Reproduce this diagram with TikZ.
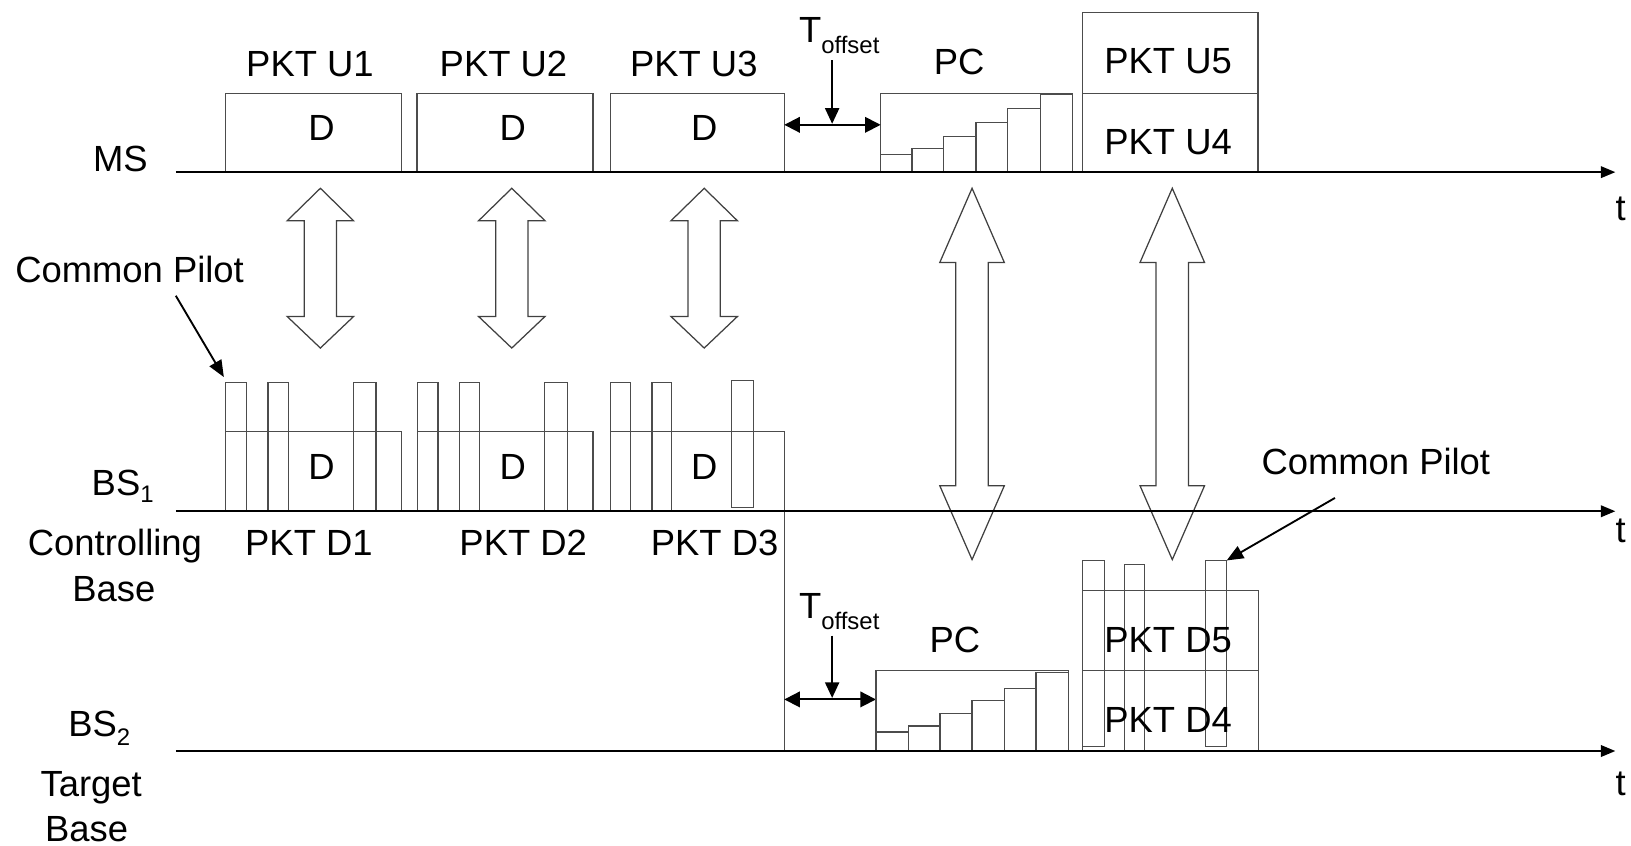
\documentclass[tikz,border=0pt]{standalone}
\usepackage{fontspec}
\setmainfont{Liberation Sans}
\usetikzlibrary{arrows.meta}
\tikzset{
  axis/.style={line width=2.2pt, black, -{Triangle[length=14pt,width=11pt]}},
  pkt/.style={draw=black!70, line width=1.2pt},
  blockarrow/.style={draw=black!75, line width=1.2pt, line join=miter},
  lbl/.style={font=\fontsize{35}{42}\selectfont, inner sep=0pt, anchor=base},
  dimarrow/.style={line width=1.8pt, black, {Triangle[length=15pt,width=15pt]}-{Triangle[length=15pt,width=15pt]}},
  downarrow/.style={line width=1.8pt, black, -{Triangle[length=15pt,width=13.5pt]}},
  pilotarrow/.style={line width=1.8pt, black, -{Triangle[length=16pt,width=13pt]}}
}
\newcommand\blkarrow[7]{\draw[blockarrow] (#1,#2) -- ({#1+#6},#3) -- ({#1+#7},#3) -- ({#1+#7},#4) -- ({#1+#6},#4) -- (#1,#5) -- ({#1-#6},#4) -- ({#1-#7},#4) -- ({#1-#7},#3) -- ({#1-#6},#3) -- cycle;}
\newcommand\pbar[4]{\draw[pkt] (#1,#4) rectangle (#2,#3);}
\newcommand\subtxt[2]{\raisebox{-#1pt}{\fontsize{23}{27}\selectfont #2}}
\begin{document}
\begin{tikzpicture}[x=1pt,y=-1pt]
\useasboundingbox (0,0) rectangle (1568,813.3);

% ---------- MS packets ----------
\draw[pkt] (217,90) rectangle (386,165.5);
\draw[pkt] (401,90) rectangle (570,165.5);
\draw[pkt] (586.6,90) rectangle (754,165.5);
\node[lbl] (d1) at (309,135) {D};
\node[lbl] (d2) at (493,135) {D};
\node[lbl] (d3) at (677,135) {D};
\node[lbl] (u1) at (298,73.4) {PKT U1};
\node[lbl] (u2) at (484,73.4) {PKT U2};
\node[lbl] (u3) at (667,73.4) {PKT U3};

% PC (MS)
\draw[pkt] (846.6,89.6) rectangle (1031,165.5);
\pbar{846.6}{876.7}{148.6}{165.5}
\pbar{876.7}{907.4}{142.8}{165.5}
\pbar{907.4}{938.2}{131.3}{165.5}
\pbar{938.2}{968.9}{117.9}{165.5}
\pbar{968.9}{1000}{104.4}{165.5}
\pbar{1000}{1031}{91}{165.5}
\node[lbl] (pc1) at (922,72) {PC};

% U4/U5
\draw[pkt] (1040.7,12.2) rectangle (1209.5,165.5);
\draw[pkt] (1040.7,89.6) -- (1209.5,89.6);
\node[lbl] (u5) at (1123,71) {PKT U5};
\node[lbl] (u4) at (1123,149) {PKT U4};

% T offset (top)
\node[lbl, anchor=base west] (toff1) at (768,41) {T\subtxt{10}{offset}};
\coordinate (ta1) at (800,58);
\coordinate (tb1) at (800,119);
\coordinate (tl1) at (754,120);
\coordinate (tr1) at (846.6,120);
\draw[dimarrow] (tl1) -- (tr1);
\draw[downarrow] (ta1) -- (tb1);

% ---------- BS1 packets ----------
\draw[pkt] (217,414.7) rectangle (386,491.5);
\pbar{217}{236.7}{368}{491.5}
\pbar{257.6}{277}{368}{491.5}
\pbar{339.8}{361.4}{368}{491.5}
\draw[pkt] (401.4,414.7) rectangle (570,491.5);
\pbar{401.4}{421.1}{368}{491.5}
\pbar{441.5}{461.2}{368}{491.5}
\pbar{523.7}{545.3}{368}{491.5}
\draw[pkt] (586.6,491.5) -- (586.6,414.7) -- (754,414.7) -- (754,722);
\pbar{586.6}{606.3}{368}{491.5}
\pbar{626.8}{645.3}{368}{491.5}
\pbar{703.3}{724.1}{366}{488}
\node[lbl] (bd1) at (309,461) {D};
\node[lbl] (bd2) at (493,461) {D};
\node[lbl] (bd3) at (677,461) {D};
\node[lbl] (pd1) at (297,534) {PKT D1};
\node[lbl] (pd2) at (503,534) {PKT D2};
\node[lbl] (pd3) at (687,534) {PKT D3};

% ---------- BS2 ----------
\node[lbl, anchor=base west] (toff2) at (768,595) {T\subtxt{10}{offset}};
\coordinate (ta2) at (800,611);
\coordinate (tb2) at (800,671);
\coordinate (tl2) at (754,672.4);
\coordinate (tr2) at (842.1,672.4);
\draw[dimarrow] (tl2) -- (tr2);
\draw[downarrow] (ta2) -- (tb2);

\draw[pkt] (842.1,644.3) rectangle (1027.2,722);
\pbar{842.1}{873.2}{703.8}{722}
\pbar{873.2}{903.6}{698}{722}
\pbar{903.6}{934.4}{686.2}{722}
\pbar{934.4}{965.4}{673.1}{722}
\pbar{965.4}{995.9}{661.6}{722}
\pbar{995.9}{1027.2}{646.2}{722}
\node[lbl] (pc2) at (918,627.3) {PC};

\draw[pkt] (1040.7,567.7) rectangle (1209.6,722);
\draw[pkt] (1040.7,644.3) -- (1209.6,644.3);
\pbar{1040.4}{1061.5}{538.8}{717.3}
\pbar{1080.7}{1100}{542.7}{722}
\pbar{1159.2}{1179}{538.8}{717.3}
\node[lbl] (pd5) at (1123,627) {PKT D5};
\node[lbl] (pd4) at (1123,704) {PKT D4};

% ---------- block arrows ----------
\blkarrow{308}{181}{212.3}{304.2}{334.6}{32}{15.5}
\blkarrow{492}{181}{212.3}{304.2}{334.6}{32}{15.5}
\blkarrow{677}{181}{212.3}{304.2}{334.6}{32}{15.5}
\blkarrow{934.5}{181}{252.3}{467}{538}{31}{15.6}
\blkarrow{1127}{181}{252.3}{467}{538}{31}{15.6}

% ---------- axes ----------
\coordinate (msL) at (169,165.5);
\coordinate (msR) at (1553,165.5);
\coordinate (b1L) at (169,491.5);
\coordinate (b1R) at (1553,491.5);
\coordinate (b2L) at (169,722);
\coordinate (b2R) at (1553,722);
\draw[axis] (msL) -- (msR);
\draw[axis] (b1L) -- (b1R);
\draw[axis] (b2L) -- (b2R);
\node[lbl] (t1) at (1558,212) {t};
\node[lbl] (t2) at (1558,522) {t};
\node[lbl] (t3) at (1558,765) {t};

% ---------- left labels ----------
\node[lbl] (ms) at (115.7,164.7) {MS};
\node[lbl, anchor=base west] (bs1) at (88,476) {BS\subtxt{7}{1}};
\node[lbl] (ctrl) at (110.5,534) {Controlling};
\node[lbl] (base1) at (109.4,578) {Base};
\node[lbl, anchor=base west] (bs2) at (65.5,707.6) {BS\subtxt{9}{2}};
\node[lbl] (tgt) at (87.7,765.6) {Target};
\node[lbl] (base2) at (83.3,809) {Base};

% ---------- common pilot ----------
\node[lbl] (cp1) at (124.6,271.9) {Common Pilot};
\coordinate (cp1s) at (169,284.3);
\coordinate (cp1e) at (215.2,362.5);
\draw[pilotarrow] (cp1s) -- (cp1e);
\node[lbl] (cp2) at (1322.7,456.3) {Common Pilot};
\coordinate (cp2s) at (1283.4,478.7);
\coordinate (cp2e) at (1179.3,538.8);
\draw[pilotarrow] (cp2s) -- (cp2e);
\end{tikzpicture}
\end{document}
